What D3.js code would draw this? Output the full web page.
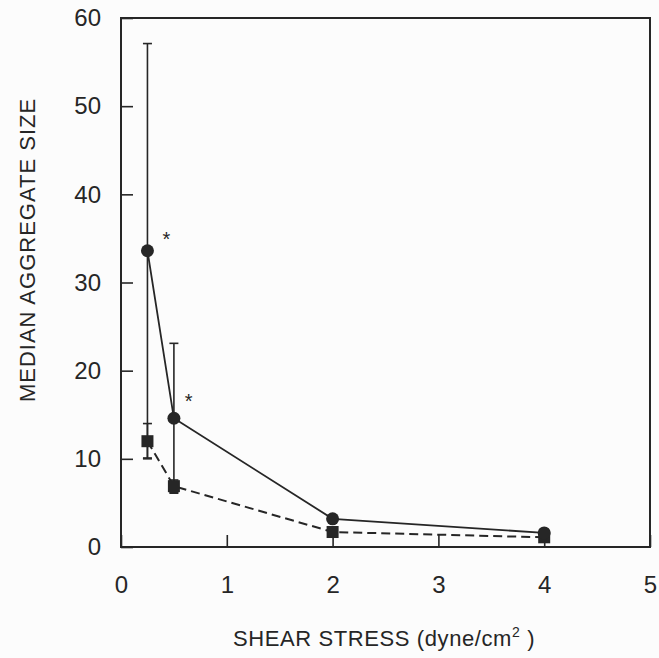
<!DOCTYPE html>
<html>
<head>
<meta charset="utf-8">
<script src="https://cdn.jsdelivr.net/npm/d3@7"></script>
<style>
  body { margin: 0; background: #fcfcfc; }
  svg { display: block; }
</style>
</head>
<body>
<svg id="plotSvg" width="659" height="658"></svg>
<script>
// shear stress levels (dyne/cm2)
var stress = [0.25, 0.5, 2, 4];
// circles, solid line
var circleMedian = [33.6, 14.6, 3.2, 1.6];
var circleErr = [23.5, 8.5, 0, 0];
// squares, dashed line
var squareMedian = [12.0, 6.9, 1.7, 1.1];
var squareErr = [2.0, 0.7, 0, 0];
// significance marks
var starX = [0.43, 0.64];
var starY = [35.4, 17.0];

var xTicks = [0, 1, 2, 3, 4, 5];
var yTicks = [0, 10, 20, 30, 40, 50, 60];

var margin = {top: 18, right: 9, bottom: 111, left: 121};
var width = 659 - margin.left - margin.right,
    height = 658 - margin.top - margin.bottom;

var ink = "#262626";
var font = "Liberation Sans, Arial, sans-serif";
var svg = d3.select("#plotSvg");
var g = svg.append("g").attr("transform", "translate(" + margin.left + "," + margin.top + ")");

var x = d3.scaleLinear().domain([0, 5]).range([0, width]);
var y = d3.scaleLinear().domain([0, 60]).range([height, 0]);

// frame
g.append("rect")
    .attr("width", width)
    .attr("height", height)
    .attr("fill", "none")
    .attr("stroke", ink)
    .attr("stroke-width", 2);

// axes with inward ticks
var xAxis = d3.axisBottom(x).tickValues(xTicks).tickSize(-12).tickPadding(29).tickFormat(d3.format("d"));
var yAxis = d3.axisLeft(y).tickValues(yTicks).tickSize(-12).tickPadding(20).tickFormat(d3.format("d"));

var gx = g.append("g").attr("transform", "translate(0," + height + ")").call(xAxis);
var gy = g.append("g").call(yAxis);
[gx, gy].forEach(function (a) {
    a.select(".domain").remove();
    a.selectAll("line").attr("stroke", ink).attr("stroke-width", 1.6);
    a.selectAll("text")
        .attr("fill", ink)
        .attr("font-family", font)
        .attr("font-size", 24);
});
gx.selectAll("text").attr("dy", "0.71em");

var circles = stress.map(function (s, i) { return {x: s, y: circleMedian[i], e: circleErr[i]}; });
var squares = stress.map(function (s, i) { return {x: s, y: squareMedian[i], e: squareErr[i]}; });

var line = d3.line()
    .x(function (d) { return x(d.x); })
    .y(function (d) { return y(d.y); });

function errorBars(data) {
    var eb = g.append("g").attr("stroke", ink).attr("stroke-width", 1.6);
    data.filter(function (d) { return d.e > 0; }).forEach(function (d) {
        var cx = x(d.x), lo = y(d.y - d.e), hi = y(d.y + d.e);
        eb.append("line").attr("x1", cx).attr("x2", cx).attr("y1", lo).attr("y2", hi);
        eb.append("line").attr("x1", cx - 4.5).attr("x2", cx + 4.5).attr("y1", lo).attr("y2", lo);
        eb.append("line").attr("x1", cx - 4.5).attr("x2", cx + 4.5).attr("y1", hi).attr("y2", hi);
    });
}

errorBars(squares);
errorBars(circles);

g.append("path")
    .datum(squares)
    .attr("d", line)
    .attr("fill", "none")
    .attr("stroke", ink)
    .attr("stroke-width", 2)
    .attr("stroke-dasharray", "9,5");

g.append("path")
    .datum(circles)
    .attr("d", line)
    .attr("fill", "none")
    .attr("stroke", ink)
    .attr("stroke-width", 1.8);

g.selectAll(".sq")
    .data(squares)
    .enter().append("rect")
    .attr("x", function (d) { return x(d.x) - 6; })
    .attr("y", function (d) { return y(d.y) - 6; })
    .attr("width", 12)
    .attr("height", 12)
    .attr("fill", ink);

g.selectAll(".ci")
    .data(circles)
    .enter().append("circle")
    .attr("cx", function (d) { return x(d.x); })
    .attr("cy", function (d) { return y(d.y); })
    .attr("r", 6.5)
    .attr("fill", ink);

g.selectAll(".star")
    .data(starX)
    .enter().append("text")
    .attr("x", function (d) { return x(d); })
    .attr("y", function (d, i) { return y(starY[i]); })
    .attr("dy", "0.55em")
    .attr("text-anchor", "middle")
    .attr("font-family", font)
    .attr("font-size", 20)
    .attr("fill", ink)
    .text("*");

// axis titles
var xt = svg.append("text")
    .attr("x", margin.left + 263)
    .attr("y", 646)
    .attr("text-anchor", "middle")
    .attr("font-family", font)
    .attr("font-size", 22)
    .attr("letter-spacing", 0.6)
    .attr("fill", ink);
xt.append("tspan").text("SHEAR STRESS (dyne/cm");
xt.append("tspan").attr("font-size", 14).attr("dy", -9).text("2");
xt.append("tspan").attr("dy", 9).text(" )");

svg.append("text")
    .attr("transform", "translate(35," + 250 + ") rotate(-90)")
    .attr("text-anchor", "middle")
    .attr("font-family", font)
    .attr("font-size", 22)
    .attr("letter-spacing", 1)
    .attr("fill", ink)
    .text("MEDIAN AGGREGATE SIZE");
</script>
</body>
</html>
